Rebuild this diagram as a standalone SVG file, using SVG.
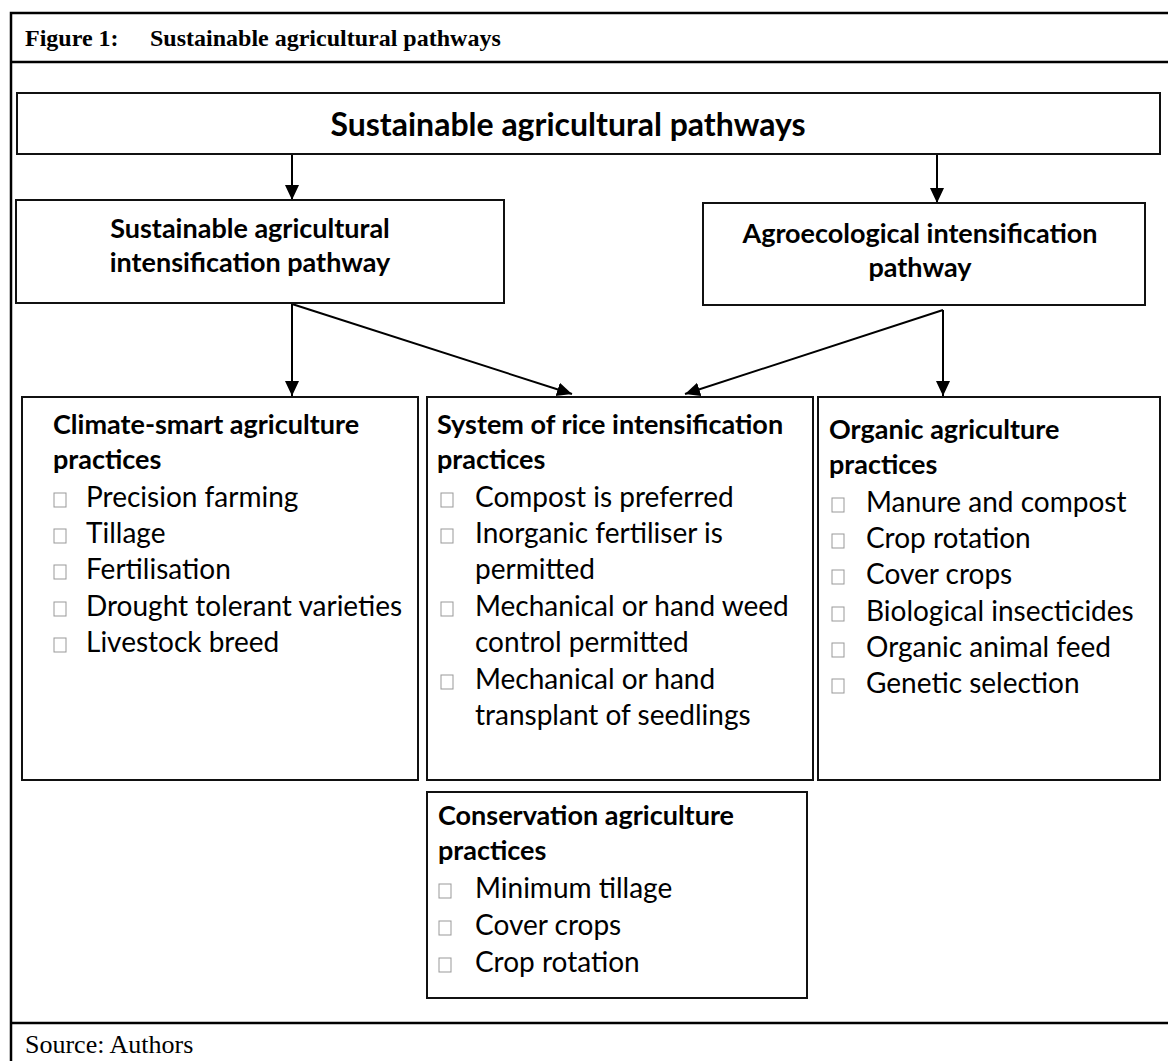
<svg xmlns="http://www.w3.org/2000/svg" width="1168" height="1061" viewBox="0 0 1168 1061">
<style>
.frame{stroke:#000;stroke-width:2.5;fill:none}
.box{fill:#fff;stroke:#111;stroke-width:2}
.ttl{font-family:"Liberation Serif","Times New Roman",serif;font-weight:bold;font-size:24px;fill:#000}
.src{font-family:"Liberation Serif","Times New Roman",serif;font-size:26px;fill:#000}
.h{font-family:Lato,"Open Sans",sans-serif;font-weight:bold;font-size:27px;fill:#000}
.hc{font-family:Lato,"Open Sans",sans-serif;font-weight:bold;font-size:27px;fill:#000;text-anchor:middle}
.t{font-family:Lato,"Open Sans",sans-serif;font-size:28px;fill:#000}
.bul{fill:none;stroke:#999;stroke-width:1}
.conn{stroke:#000;stroke-width:2;fill:none;marker-end:url(#arr)}
</style>
<defs>
<marker id="arr" markerUnits="userSpaceOnUse" markerWidth="16" markerHeight="16" refX="15" refY="7" orient="auto">
<path d="M0,0 L15,7 L0,14 z" fill="#000"/>
</marker>
<rect id="sq" width="12" height="14" class="bul"/>
</defs>

<g id="frame">
<path class="frame" d="M11,1061 V13 H1168"/>
<line class="frame" x1="11" y1="62" x2="1168" y2="62"/>
<line class="frame" x1="11" y1="1023" x2="1168" y2="1023"/>
<text class="ttl" x="25" y="46">Figure 1:</text>
<text class="ttl" x="150" y="46">Sustainable agricultural pathways</text>
<text class="src" x="25" y="1053">Source: Authors</text>
</g>

<g id="connectors">
<line class="conn" x1="292" y1="154" x2="292" y2="200"/>
<line class="conn" x1="937" y1="154" x2="937" y2="203"/>
<line class="conn" x1="292" y1="304" x2="292" y2="396"/>
<line class="conn" x1="292" y1="304" x2="572" y2="394"/>
<line class="conn" x1="943" y1="310" x2="685" y2="394"/>
<line class="conn" x1="943" y1="310" x2="943" y2="396"/>
</g>

<g id="n-root">
<rect class="box" x="17" y="93" width="1143" height="61"/>
<text class="hc" style="font-size:32px" x="568" y="136">Sustainable agricultural pathways</text>
</g>

<g id="n-sai">
<rect class="box" x="16" y="200" width="488" height="103"/>
<text class="hc" x="250" y="238">Sustainable agricultural</text>
<text class="hc" x="250" y="272">intensification pathway</text>
</g>

<g id="n-aei">
<rect class="box" x="703" y="203" width="442" height="102"/>
<text class="hc" x="920" y="243">Agroecological intensification</text>
<text class="hc" x="920" y="277">pathway</text>
</g>

<g id="n-csa">
<rect class="box" x="22" y="397" width="396" height="383"/>
<text class="h" x="53" y="434">Climate-smart agriculture</text>
<text class="h" x="53" y="469">practices</text>
<use href="#sq" x="54" y="493"/><text class="t" x="86" y="507">Precision farming</text>
<use href="#sq" x="54" y="529"/><text class="t" x="86" y="543">Tillage</text>
<use href="#sq" x="54" y="565"/><text class="t" x="86" y="579">Fertilisation</text>
<use href="#sq" x="54" y="602"/><text class="t" x="86" y="616">Drought tolerant varieties</text>
<use href="#sq" x="54" y="638"/><text class="t" x="86" y="652">Livestock breed</text>
</g>

<g id="n-sri">
<rect class="box" x="427" y="397" width="386" height="383"/>
<text class="h" x="437" y="434">System of rice intensification</text>
<text class="h" x="437" y="469">practices</text>
<use href="#sq" x="441" y="493"/><text class="t" x="475" y="507">Compost is preferred</text>
<use href="#sq" x="441" y="529"/><text class="t" x="475" y="543">Inorganic fertiliser is</text>
<text class="t" x="475" y="579">permitted</text>
<use href="#sq" x="441" y="602"/><text class="t" x="475" y="616">Mechanical or hand weed</text>
<text class="t" x="475" y="652">control permitted</text>
<use href="#sq" x="441" y="675"/><text class="t" x="475" y="689">Mechanical or hand</text>
<text class="t" x="475" y="725">transplant of seedlings</text>
</g>

<g id="n-oa">
<rect class="box" x="818" y="397" width="342" height="383"/>
<text class="h" x="829" y="439">Organic agriculture</text>
<text class="h" x="829" y="474">practices</text>
<use href="#sq" x="832" y="498"/><text class="t" x="866" y="512">Manure and compost</text>
<use href="#sq" x="832" y="534"/><text class="t" x="866" y="548">Crop rotation</text>
<use href="#sq" x="832" y="570"/><text class="t" x="866" y="584">Cover crops</text>
<use href="#sq" x="832" y="607"/><text class="t" x="866" y="621">Biological insecticides</text>
<use href="#sq" x="832" y="643"/><text class="t" x="866" y="657">Organic animal feed</text>
<use href="#sq" x="832" y="679"/><text class="t" x="866" y="693">Genetic selection</text>
</g>

<g id="n-ca">
<rect class="box" x="427" y="792" width="380" height="206"/>
<text class="h" x="438" y="825">Conservation agriculture</text>
<text class="h" x="438" y="860">practices</text>
<use href="#sq" x="439" y="884"/><text class="t" x="475" y="898">Minimum tillage</text>
<use href="#sq" x="439" y="921"/><text class="t" x="475" y="935">Cover crops</text>
<use href="#sq" x="439" y="958"/><text class="t" x="475" y="972">Crop rotation</text>
</g>
</svg>
